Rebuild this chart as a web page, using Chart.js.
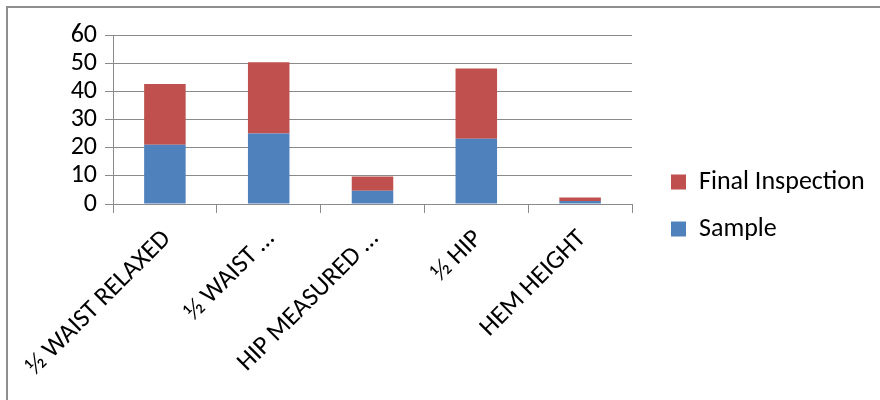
<!DOCTYPE html>
<html lang="en">
<head>
  <meta charset="UTF-8" />
  <title>Sample vs Final Inspection</title>
  <script src="https://cdn.jsdelivr.net/npm/chart.js"></script>
  <style>
    * { box-sizing: border-box; }
    body { margin: 0; background: #fff; }
    .wrap { position: relative; width: 880px; height: 400px; overflow: hidden; }
    .frame {
      position: absolute; left: 6px; top: 6px; width: 900px; height: 420px;
      border-left: 2px solid #8e8e8e; border-top: 2px solid #8e8e8e;
    }
    canvas { position: absolute; left: 0; top: 0; }
  </style>
</head>
<body>
  <div class="wrap">
    <div class="frame"></div>
    <canvas id="chart" width="880" height="400"></canvas>
  </div>

  <script>
    const categories = ['½ WAIST RELAXED', '½ WAIST …', 'HIP MEASURED …', '½ HIP', 'HEM HEIGHT'];
    const sampleValues = [21, 25, 4.7, 23.2, 1.05];
    const finalValues = [21.6, 25.3, 5.1, 24.9, 1.3];
    const yTicks = [0, 10, 20, 30, 40, 50, 60];

    const font = { family: "Carlito, Lato, 'Open Sans', sans-serif", size: 26 };
    const gridGrey = '#8a8a8a';

    // legend keeps a fixed width so the plot ends where it should,
    // then gets nudged right/up a little
    const legendFix = {
      id: 'legendFix',
      beforeLayout(chart) {
        const lg = chart.legend;
        if (lg && !lg._fixed) {
          const fit = lg.fit.bind(lg);
          lg.fit = function () { fit(); this.width = 248; };
          lg._fixed = true;
        }
      },
      afterLayout(chart) {
        const lg = chart.legend;
        if (lg) { lg.left += 18; lg.right += 18; lg.top -= 12; lg.bottom -= 12; }
      }
    };

    new Chart(document.getElementById('chart'), {
      type: 'bar',
      data: {
        labels: categories,
        datasets: [
          { label: 'Sample', data: sampleValues, backgroundColor: '#4f81bd', barPercentage: 0.4, categoryPercentage: 1 },
          { label: 'Final Inspection', data: finalValues, backgroundColor: '#c0504d', barPercentage: 0.4, categoryPercentage: 1 }
        ]
      },
      options: {
        responsive: false,
        animation: false,
        events: [],
        layout: { padding: { top: 35, left: 0, right: 0, bottom: 0 } },
        plugins: {
          tooltip: { enabled: false },
          legend: {
            position: 'right',
            reverse: true,
            labels: { font: font, color: '#000', boxWidth: 15, boxHeight: 15, padding: 21 }
          }
        },
        scales: {
          x: {
            stacked: true,
            grid: { offset: true, drawOnChartArea: false, drawTicks: true, tickLength: 9, color: gridGrey },
            border: { color: gridGrey, width: 1 },
            ticks: { font: font, color: '#000', minRotation: 45, maxRotation: 45, autoSkip: false, padding: 11, labelOffset: 2 },
            afterFit(scale) { scale.height = 196; }
          },
          y: {
            stacked: true,
            min: 0,
            max: 60,
            afterBuildTicks(scale) { scale.ticks = yTicks.map(v => ({ value: v })); },
            grid: { color: gridGrey, tickLength: 8 },
            border: { color: gridGrey, width: 1 },
            ticks: { font: font, color: '#000', padding: 8, autoSkip: false },
            afterFit(scale) { scale.width = 113; }
          }
        }
      },
      plugins: [legendFix]
    });
  </script>
</body>
</html>
